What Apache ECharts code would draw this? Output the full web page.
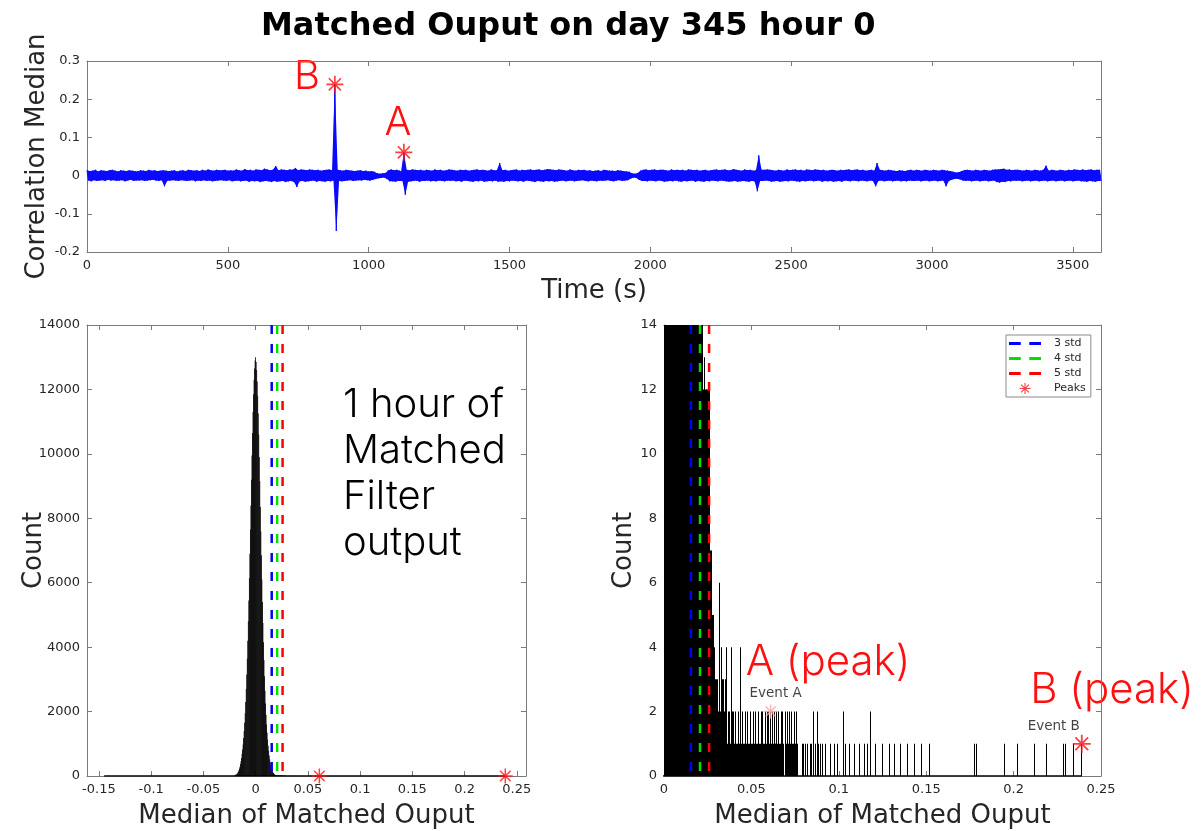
<!DOCTYPE html>
<html>
<head>
<meta charset="utf-8">
<script src="https://cdn.jsdelivr.net/npm/echarts@6/dist/echarts.min.js"></script>
<style>
  html, body { margin: 0; padding: 0; background: #ffffff; }
  #chart { width: 1201px; height: 831px; }
</style>
</head>
<body>
<div id="chart"></div>
<script>
// ---- correlation median trace (thousandths), one sample every 5 s ----
const signalStep = 5;
const signalMilli = [
  14,-13,12,-15,13,-12,15,-14,11,-13,14,-12,
  13,-14,12,-11,14,-13,15,-12,13,-14,11,-13,
  14,-12,13,-15,12,-13,14,-11,13,-14,12,-13,
  11,-13,14,-12,13,-14,12,-13,15,-12,13,-11,
  14,-13,12,-14,13,-12,14,-28,13,-14,12,-13,
  13,-12,14,-13,11,-14,13,-12,14,-13,12,-14,
  15,-13,14,-12,13,-15,14,-13,12,-14,15,-12,
  13,-14,16,-13,14,-15,13,-14,15,-13,14,-12,
  14,-13,15,-14,13,-12,14,-15,13,-14,16,-13,
  14,-15,13,-14,17,-13,14,-16,15,-14,13,-15,
  16,-14,15,-17,14,-15,18,-14,16,-15,14,-17,
  15,-14,25,-16,14,-15,16,-14,15,-17,14,-15,
  16,-14,15,-17,20,-30,14,-15,16,-14,15,-16,
  14,-15,16,-14,15,-13,14,-16,15,-14,13,-15,
  14,-16,15,-14,16,-15,14,-13,239,-145,15,-14,
  14,-15,13,-14,15,-13,14,-12,13,-14,12,-13,
  13,-12,14,-13,12,-11,13,-12,11,-13,12,-11,
  10,-9,6,-7,5,-6,6,-5,7,-9,14,-15,
  16,-15,14,-16,15,-14,13,11,-14,61,-50,15,
  -16,14,-15,16,-14,15,-13,14,-16,15,-14,13,
  -14,15,-13,14,-15,13,-14,16,-15,14,-13,15,
  -14,13,-15,14,-13,16,-14,15,-13,14,-15,13,
  -14,15,-16,14,-13,15,-14,13,-15,14,-16,15,
  -14,16,-15,14,-13,15,-16,14,-15,13,-14,16,
  -15,14,-13,14,-16,33,-15,14,-16,15,-14,13,
  -15,14,-13,15,-14,16,-15,13,-14,15,-16,14,
  -13,15,-14,16,-15,14,-17,15,-14,16,-15,14,
  -16,15,-14,17,-15,16,-14,15,-16,14,-15,16,
  -14,15,-13,14,-15,13,-14,16,-13,14,-15,13,
  -14,15,-13,14,-12,15,-14,13,-15,14,-13,12,
  -14,13,-15,14,-13,12,-14,15,-13,14,-12,13,
  -14,13,-15,12,-13,14,-12,13,-14,12,-13,11,
  -12,10,-8,6,-5,5,-6,7,-11,13,-14,15,
  -14,16,-15,14,-13,15,-14,16,-15,14,-13,15,
  -14,15,-16,14,-15,13,-14,16,-15,14,-13,15,
  -15,14,-16,15,-14,13,-15,16,-14,15,-13,14,
  -16,15,-14,13,-15,14,-16,15,-14,13,-15,14,
  -13,15,-14,16,-15,14,-13,15,-14,16,-15,14,
  -16,14,-15,17,-14,15,-16,14,-15,13,-14,16,
  -15,14,-16,15,-14,13,-15,14,-41,53,-14,15,
  -14,15,-13,16,-14,15,-16,14,-15,13,-14,15,
  -16,14,-15,13,-14,16,-15,14,-13,15,-14,16,
  -15,14,-16,15,-14,13,-15,16,-14,15,-13,14,
  -15,16,-14,15,-13,14,-16,15,-14,13,-15,14,
  -14,15,-16,14,-15,13,-14,15,-16,14,-13,15,
  -14,16,-15,14,-13,15,-14,16,-15,14,-13,15,
  -14,13,-15,14,-13,15,-14,13,-28,33,-14,15,
  -13,14,-15,13,-14,15,-13,14,-15,13,-14,12,
  -13,14,-15,13,-14,12,-15,14,-13,15,-14,13,
  -14,15,-13,14,-15,13,-14,15,-13,14,-15,13,
  -14,15,-13,14,-15,13,-14,15,-13,14,-28,13,
  -14,12,-11,10,-9,8,-8,9,-10,12,-13,14,
  -14,15,-13,14,-15,13,-14,15,-13,14,-15,13,
  -14,15,-13,14,-15,13,-14,15,-13,16,-17,16,
  -18,17,-16,18,-17,15,-14,16,-15,14,-13,15,
  -14,15,-13,14,-15,13,-14,15,-13,14,-15,13,
  -14,15,-13,14,-15,13,-14,15,-13,26,-15,13,
  -14,15,-13,14,-15,13,-14,15,-13,14,-15,13,
  -14,15,-13,14,-15,16,-14,15,-13,14,-15,16,
  -15,14,-16,15,-14,16,-15,14,-16,15,-14,15,
  -14
];

// ---- detected peaks (indices into the trace) ----
const peakIndex = [225, 176];
const peakLetters = ['A', 'B'];
const peakEvents = ['Event A', 'Event B'];
const peakCounts = [2, 1];

// ---- thresholds ----
const stdNames = ['3 std', '4 std', '5 std'];
const stdThresholds = [0.0154, 0.0206, 0.0258];

// ---- histogram of the trace (bin width 0.0005) ----
const binWidth = 0.0005;
const coreStart = -0.0200;
const coreCounts = [
  20, 28, 35, 45, 60, 80, 105, 140, 180, 230,
  290, 370, 460, 560, 680, 820, 980, 1180, 1400, 1650,
  1950, 2300, 2700, 3150, 3650, 4200, 4800, 5450, 6150, 6900,
  7650, 8400, 9200, 9950, 10650, 11300, 11850, 12300, 12650, 12900,
  13000,
  12850, 12600, 12250, 11800, 11250, 10600, 9900, 9150, 8350, 7600,
  6850, 6100, 5400, 4750, 4150, 3600, 3100, 2650, 2250, 1900,
  1600, 1350, 1130, 940, 780, 640, 520, 420, 330, 260,
  200, 155, 120, 90, 70, 55, 42, 33, 27, 22,
  19, 17, 16, 15, 12, 13, 12, 12, 12, 12,
  12, 12
];
const tailStart = 0.0265;
const tailCounts = [
  7, 7, 5, 5, 4, 4, 3, 3, 3, 2,
  6, 3, 2, 4, 3, 3, 2, 3, 4, 2,
  1, 2, 2, 1, 4, 2, 1, 2, 1, 2,
  1, 1, 2, 1, 2, 4, 1, 2, 1, 1,
  2, 1, 0, 2, 1, 1, 2, 1, 1, 2,
  1, 0, 2, 1, 1, 2, 1, 1, 2, 1,
  2, 1, 1, 2, 1, 2, 1, 2, 1, 2,
  1, 2, 1, 2, 1, 1, 2, 1, 2, 1,
  1, 2, 1, 2, 1, 0, 2, 1, 2, 1,
  1, 2, 1, 2, 1, 1, 2, 1, 1, 2,
  1
];
const sparseBins = [
  0.0790, 0.0800, 0.0810, 0.0820, 0.0835, 0.0845, 0.0855, 0.0865, 0.0875, 0.0885,
  0.0895, 0.0905, 0.0925, 0.0955, 0.0975, 0.0995, 0.1025, 0.1040, 0.1060, 0.1090,
  0.1120, 0.1145, 0.1165, 0.1180, 0.1210, 0.1250, 0.1290, 0.1320, 0.1350, 0.1390,
  0.1430, 0.1475, 0.1520, 0.1775, 0.1790, 0.1945, 0.2020, 0.2120, 0.2185, 0.2285,
  0.2295, 0.2340, 0.2390
];
const sparseCounts = [
  1, 1, 1, 1, 1, 1, 2, 1, 2, 1,
  1, 1, 1, 1, 1, 1, 2, 1, 1, 1,
  1, 1, 1, 2, 1, 1, 1, 1, 1, 1,
  1, 1, 1, 1, 1, 1, 1, 1, 1, 1,
  1, 1, 1
];

// ---- axis ticks ----
const timeTicks = [0, 500, 1000, 1500, 2000, 2500, 3000, 3500];
const histTicks = [-0.15, -0.1, -0.05, 0, 0.05, 0.1, 0.15, 0.2, 0.25];

// ---------------------------------------------------------------
const FONT = 'DejaVu Sans';
const INK = '#262626';
const FRAME = '#7a7a7a';
const RED = '#ff1010';
const TRACE = '#0a0aff';
const STD_COLORS = ['#0000ff', '#00e000', '#ff0000'];
const ASTERISK = 'path://M9,0H11V20H9Z M0,9H20V11H0Z M2.2,3.6L3.6,2.2L17.8,16.4L16.4,17.8Z M16.4,2.2L17.8,3.6L3.6,17.8L2.2,16.4Z';
const DASH_ICON = 'path://M0,0H11V3H0Z M19,0H30V3H19Z';

const signal = signalMilli.map(v => v / 1000);
const signalPoints = signal.map((v, i) => [i * signalStep, v]);
const sigMin = Math.min(...signal);
const sigMax = Math.max(...signal);

const histData = [];
coreCounts.forEach((c, i) => histData.push([+(coreStart + i * binWidth).toFixed(4), c]));
tailCounts.forEach((c, i) => { if (c > 0) histData.push([+(tailStart + i * binWidth).toFixed(4), c]); });
sparseBins.forEach((b, i) => histData.push([b, sparseCounts[i]]));

const LEFT_YMAX = 14000, RIGHT_YMAX = 14;

// one histogram bin as a rectangle, clipped to its grid;
// bins close to a pixel wide are snapped to whole pixels so neighbours merge cleanly
function renderBin(params, api) {
  const c = api.value(0), n = api.value(1);
  const p0 = api.coord([c - binWidth / 2, 0]);
  const p1 = api.coord([c + binWidth / 2, n]);
  let x0 = p0[0], w = p1[0] - p0[0];
  if (w >= 0.75) {
    x0 = Math.round(p0[0]);
    w = Math.max(Math.round(p1[0]) - x0, 1);
  } else {
    x0 -= 0.15; w += 0.3;
  }
  const cs = params.coordSys;
  const r = echarts.graphic.clipRectByRect(
    { x: x0, y: p1[1], width: w, height: p0[1] - p1[1] },
    { x: cs.x, y: cs.y, width: cs.width, height: cs.height }
  );
  if (!r || r.width <= 0 || r.height <= 0) return null;
  return { type: 'rect', shape: r, style: { fill: '#000' } };
}

// filled envelope of the trace: positive samples along the top, negative back along the bottom
function renderBand(params, api) {
  const up = [], down = [];
  signalPoints.forEach(p => (p[1] >= 0 ? up : down).push(api.coord(p)));
  return { type: 'polygon', shape: { points: up.concat(down.reverse()) }, style: { fill: TRACE } };
}

const fmt = v => String(+(+v).toFixed(4));
const tickStyle = { inside: true, length: 5, lineStyle: { color: FRAME } };
const lineStyle = { show: true, onZero: false, lineStyle: { color: FRAME, width: 1 } };
const labelStyle = { fontFamily: FONT, fontSize: 13, color: INK, margin: 7, formatter: fmt };
const nameStyle = { fontFamily: FONT, fontSize: 26, color: INK };

function xAxes(gridIndex, min, max, interval, name, nameGap, custom) {
  const tick = custom ? { ...tickStyle, customValues: custom } : tickStyle;
  const label = custom ? { ...labelStyle, customValues: custom } : { ...labelStyle, showMinLabel: true, showMaxLabel: true };
  return [
    { gridIndex, type: 'value', position: 'bottom', min, max, interval,
      axisLine: lineStyle, axisTick: tick, axisLabel: label, splitLine: { show: false },
      name, nameLocation: 'middle', nameGap, nameMoveOverlap: false, nameTextStyle: nameStyle },
    { gridIndex, type: 'value', position: 'top', min, max, interval,
      axisLine: lineStyle, axisTick: tick, axisLabel: { show: false }, splitLine: { show: false } }
  ];
}
function yAxes(gridIndex, min, max, interval, name, nameGap) {
  return [
    { gridIndex, type: 'value', position: 'left', min, max, interval,
      axisLine: lineStyle, axisTick: tickStyle,
      axisLabel: { ...labelStyle, showMinLabel: true, showMaxLabel: true }, splitLine: { show: false },
      name, nameLocation: 'middle', nameGap, nameMoveOverlap: false, nameTextStyle: nameStyle },
    { gridIndex, type: 'value', position: 'right', min, max, interval,
      axisLine: lineStyle, axisTick: tickStyle, axisLabel: { show: false }, splitLine: { show: false } }
  ];
}

const series = [];

// top: trace and its peaks
series.push({
  type: 'custom', xAxisIndex: 0, yAxisIndex: 0, data: [signalPoints[0]],
  encode: { x: 0, y: 1 }, renderItem: renderBand, z: 1, silent: true
});
series.push({
  type: 'line', xAxisIndex: 0, yAxisIndex: 0, data: signalPoints,
  symbol: 'none', sampling: 'none', lineStyle: { color: TRACE, width: 1 }, z: 2
});
series.push({
  name: 'Peaks', type: 'scatter', xAxisIndex: 0, yAxisIndex: 0, clip: false,
  symbol: ASTERISK, symbolSize: 17, itemStyle: { color: RED },
  data: peakIndex.map(i => [i * signalStep, signal[i]]), z: 5
});

// histogram panels
[[2, LEFT_YMAX], [4, RIGHT_YMAX]].forEach(([ax, ymax], panel) => {
  series.push({
    type: 'custom', xAxisIndex: ax, yAxisIndex: ax, data: histData,
    encode: { x: 0, y: 1 }, renderItem: renderBin, z: 2
  });
  series.push({
    type: 'line', xAxisIndex: ax, yAxisIndex: ax, symbol: 'none',
    data: [[sigMin, 0], [sigMax, 0]], lineStyle: { color: '#000', width: 1.5 }, z: 3
  });
  stdThresholds.forEach((t, k) => {
    series.push({
      name: stdNames[k], type: 'line', xAxisIndex: ax, yAxisIndex: ax, symbol: 'none',
      data: [[t, ymax], [t, 0]], itemStyle: { color: STD_COLORS[k] },
      lineStyle: { color: STD_COLORS[k], width: 2.5, type: [9, 10] }, z: 4
    });
  });
  if (panel === 0) {
    series.push({
      name: 'Peaks', type: 'scatter', xAxisIndex: ax, yAxisIndex: ax, clip: false,
      symbol: ASTERISK, symbolSize: 15, itemStyle: { color: RED },
      data: peakIndex.map(i => [signal[i], 0]), z: 6
    });
  } else {
    series.push({
      name: 'Peaks', type: 'scatter', xAxisIndex: ax, yAxisIndex: ax, clip: false,
      symbol: ASTERISK, z: 6, itemStyle: { color: RED },
      data: peakIndex.map((i, k) => ({
        value: [signal[i], peakCounts[k]],
        symbolSize: k === 0 ? 14 : 18,
        itemStyle: { color: k === 0 ? '#f6a3a3' : RED },
        label: {
          show: true, formatter: peakEvents[k], position: 'top',
          offset: k === 0 ? [5, 1] : [-28, 4],
          fontFamily: FONT, fontSize: 13.5, color: '#111'
        }
      }))
    });
  }
});

const annot = (text, x, y, size, color, align, vAlign, lh) => ({
  type: 'text', x, y, silent: true,
  style: { text, fill: color, fontFamily: 'Inter', fontWeight: 300, fontSize: size,
           align, verticalAlign: vAlign, lineHeight: lh }
});

const option = {
  animation: false,
  backgroundColor: '#ffffff',
  title: {
    text: 'Matched Ouput on day 345 hour 0', left: 256, top: 6,
    textStyle: { fontFamily: FONT, fontSize: 32, fontWeight: 'bold', color: '#000' }
  },
  grid: [
    { left: 87, top: 61, width: 1014, height: 191, outerBoundsMode: 'none' },
    { left: 87, top: 325, width: 439, height: 451, outerBoundsMode: 'none' },
    { left: 664, top: 325, width: 437, height: 451, outerBoundsMode: 'none' }
  ],
  xAxis: [
    ...xAxes(0, 0, 3600, 500, 'Time (s)', 26, timeTicks),
    ...xAxes(1, -0.1614, 0.2588, undefined, 'Median of Matched Ouput', 27, histTicks),
    ...xAxes(2, 0, 0.25, 0.05, 'Median of Matched Ouput', 27)
  ],
  yAxis: [
    ...yAxes(0, -0.2, 0.3, 0.1, 'Correlation Median', 37),
    ...yAxes(1, 0, LEFT_YMAX, 2000, 'Count', 40),
    ...yAxes(2, 0, RIGHT_YMAX, 2, 'Count', 27)
  ],
  legend: {
    left: 1006, top: 335, orient: 'vertical', selectedMode: false,
    itemWidth: 32, itemHeight: 11, itemGap: 4, padding: [3, 5, 3, 3],
    borderColor: '#8a8a8a', borderWidth: 1, backgroundColor: '#fff',
    textStyle: { fontFamily: FONT, fontSize: 11, color: INK, padding: [0, 0, 0, 8] },
    data: [...stdNames.map(n => ({ name: n, icon: DASH_ICON })), { name: 'Peaks', icon: ASTERISK }]
  },
  series,
  graphic: [
    annot(peakLetters[1], 307, 77, 40, RED, 'center', 'middle'),
    annot(peakLetters[0], 398, 123, 40, RED, 'center', 'middle'),
    annot('1 hour of\nMatched\nFilter\noutput', 343, 382, 40, '#000', 'left', 'top', 46),
    annot(peakLetters[0] + ' (peak)', 828, 662, 42, RED, 'center', 'middle'),
    annot(peakLetters[1] + ' (peak)', 1112, 690, 42, RED, 'center', 'middle')
  ]
};

const chart = echarts.init(document.getElementById('chart'), null, { renderer: 'canvas' });
chart.setOption(option);
</script>
</body>
</html>
